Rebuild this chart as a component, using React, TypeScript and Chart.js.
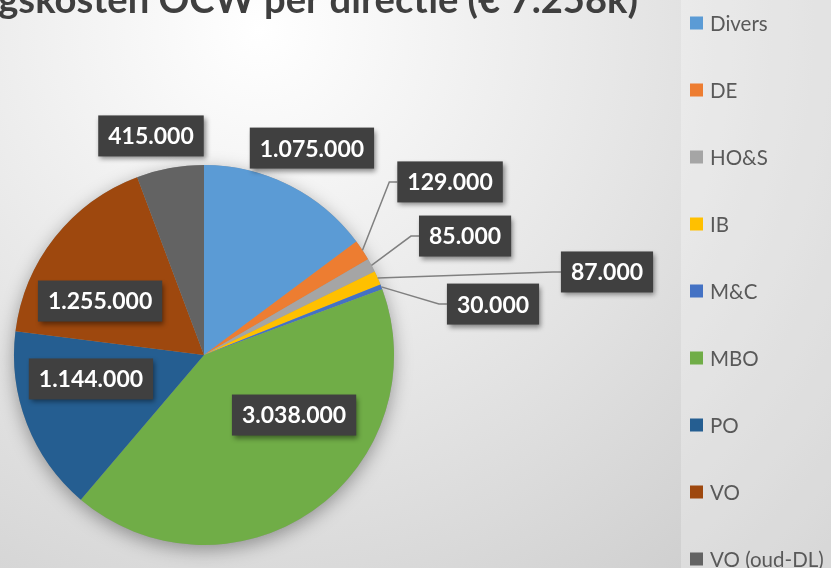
import React, { useEffect, useRef } from "react";
import { Chart, registerables } from "chart.js";

Chart.register(...registerables);

const TITLE = "Uitvoeringskosten OCW per directie (€ 7.258k)";
const TITLE_VISIBLE_PART = "gskosten OCW per directie (€ 7.258k)";

const categories = ["Divers", "DE", "HO&S", "IB", "M&C", "MBO", "PO", "VO", "VO (oud-DL)"];
const values = [1075000, 129000, 85000, 87000, 30000, 3038000, 1144000, 1255000, 415000];
const colors = ["#5B9BD5", "#ED7D31", "#A5A5A5", "#FFC000", "#4472C4", "#70AD47", "#255E91", "#9E480E", "#636363"];

// label box centres, relative to the pie centre, in units of the pie radius
const labelPosX = [0.568, 1.295, 1.374, 2.121, 1.521, 0.474, -0.595, -0.547, -0.279];
const labelPosY = [-1.089, -0.911, -0.626, -0.437, -0.268, 0.316, 0.126, -0.284, -1.153];
const hasLeader = [false, true, true, true, true, false, false, false, false];

const FONT = "Lato, 'Open Sans', sans-serif";

function fmt(v: number): string {
  return String(v).replace(/\B(?=(\d{3})+(?!\d))/g, ".");
}

const decorPlugin = {
  id: "decor",
  beforeDraw(chart: any) {
    const { ctx, width, height } = chart;
    ctx.save();
    const g = ctx.createRadialGradient(260, 30, 0, 260, 30, 780);
    g.addColorStop(0, "#ffffff");
    g.addColorStop(0.55, "#e2e2e2");
    g.addColorStop(1, "#c9c9c9");
    ctx.fillStyle = g;
    ctx.fillRect(0, 0, width, height);
    ctx.fillStyle = "rgba(255,255,255,0.28)";
    ctx.fillRect(681, 0, width - 681, height);

    // title (left part cut off by the frame)
    ctx.font = `bold 35px ${FONT}`;
    const w0 = ctx.measureText(TITLE_VISIBLE_PART).width;
    const size = (35 * 640) / w0;
    ctx.font = `bold ${size}px ${FONT}`;
    ctx.fillStyle = "#3f3f3f";
    ctx.textAlign = "right";
    ctx.textBaseline = "alphabetic";
    ctx.fillText(TITLE, 638, 13);
    ctx.restore();
  },
  beforeDatasetsDraw(chart: any) {
    const arc = chart.getDatasetMeta(0).data[0];
    if (!arc) return;
    const { ctx } = chart;
    ctx.save();
    ctx.beginPath();
    ctx.arc(arc.x, arc.y, arc.outerRadius, 0, Math.PI * 2);
    ctx.fillStyle = "#999";
    ctx.shadowColor = "rgba(0,0,0,0.35)";
    ctx.shadowBlur = 18;
    ctx.shadowOffsetY = 5;
    ctx.fill();
    ctx.restore();
  },
  afterDatasetsDraw(chart: any) {
    const { ctx } = chart;
    const meta = chart.getDatasetMeta(0);
    ctx.save();
    ctx.font = `bold 23px ${FONT}`;
    const boxes = meta.data.map((arc: any, i: number) => {
      const R = arc.outerRadius;
      const cx = arc.x + labelPosX[i] * R;
      const cy = arc.y + labelPosY[i] * R;
      const text = fmt(values[i]);
      const w = ctx.measureText(text).width + 20;
      const h = 41;
      return { arc, cx, cy, text, w, h };
    });
    // leader lines
    ctx.strokeStyle = "#808080";
    ctx.lineWidth = 1.5;
    boxes.forEach((b: any, i: number) => {
      if (!hasLeader[i]) return;
      const mid = (b.arc.startAngle + b.arc.endAngle) / 2;
      const px = b.arc.x + Math.cos(mid) * b.arc.outerRadius;
      const py = b.arc.y + Math.sin(mid) * b.arc.outerRadius;
      const lx = b.cx - b.w / 2;
      ctx.beginPath();
      ctx.moveTo(lx, b.cy);
      ctx.lineTo(lx - 8, b.cy);
      ctx.lineTo(px, py);
      ctx.stroke();
    });
    // boxes
    boxes.forEach((b: any) => {
      ctx.save();
      ctx.shadowColor = "rgba(0,0,0,0.45)";
      ctx.shadowBlur = 5;
      ctx.shadowOffsetX = 2;
      ctx.shadowOffsetY = 3;
      ctx.fillStyle = "#404040";
      ctx.fillRect(b.cx - b.w / 2, b.cy - b.h / 2, b.w, b.h);
      ctx.restore();
      ctx.fillStyle = "#ffffff";
      ctx.textAlign = "center";
      ctx.textBaseline = "middle";
      ctx.fillText(b.text, b.cx, b.cy + 1);
    });
    ctx.restore();
  },
  afterDraw(chart: any) {
    const { ctx } = chart;
    ctx.save();
    ctx.font = `20.5px ${FONT}`;
    ctx.textAlign = "left";
    ctx.textBaseline = "middle";
    categories.forEach((c, i) => {
      const y = 23 + 67 * i;
      ctx.fillStyle = colors[i];
      ctx.fillRect(690, y - 6.5, 13, 13);
      ctx.fillStyle = "#595959";
      ctx.fillText(c, 710, y + 1);
    });
    ctx.restore();
  },
};

export default function App() {
  const ref = useRef<HTMLCanvasElement | null>(null);
  useEffect(() => {
    if (!ref.current) return;
    const chart = new Chart(ref.current, {
      type: "pie",
      data: {
        labels: categories,
        datasets: [
          {
            data: values,
            backgroundColor: colors,
            borderWidth: 0,
          },
        ],
      },
      options: {
        responsive: false,
        animation: false,
        devicePixelRatio: 1,
        layout: { padding: { left: 14, right: 437, top: 165, bottom: 23 } },
        plugins: {
          legend: { display: false },
          tooltip: { enabled: false },
          title: { display: false },
        },
      },
      plugins: [decorPlugin],
    } as any);
    return () => chart.destroy();
  }, []);
  return (
    <div style={{ position: "absolute", left: 0, top: 0, width: 831, height: 568, overflow: "hidden" }}>
      <canvas ref={ref} width={831} height={568} style={{ display: "block" }} />
    </div>
  );
}
